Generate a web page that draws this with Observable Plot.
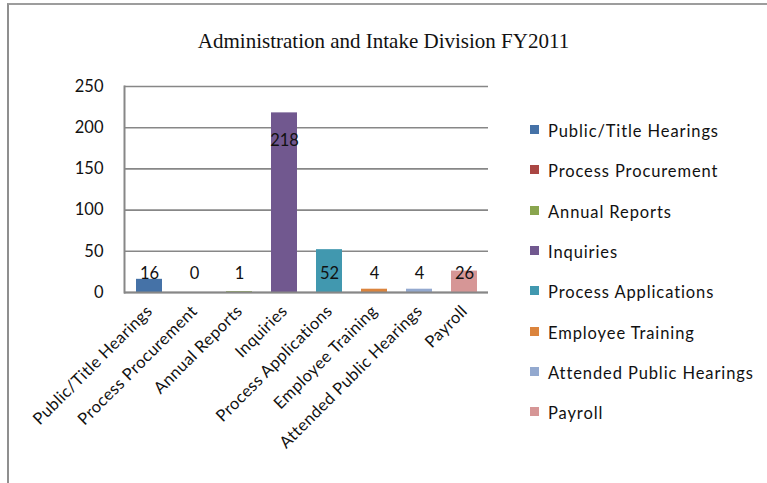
<!DOCTYPE html>
<html><head><meta charset="utf-8">
<script src="https://cdn.jsdelivr.net/npm/d3@7"></script>
<script src="https://cdn.jsdelivr.net/npm/@observablehq/plot@0.6"></script>
<style>
html,body{margin:0;padding:0;background:#fff}
body{width:767px;height:483px;overflow:hidden;position:relative;font-family:Lato,"Open Sans",sans-serif}
#frame{position:absolute;left:7px;top:3px;width:900px;height:700px;border-left:2px solid #8f8f8f;border-top:2px solid #9d9d9d;box-sizing:border-box}
#title{position:absolute;left:0;width:767px;top:29px;text-align:center;font-family:"Liberation Serif","DejaVu Serif",serif;font-size:21px;color:#111}
#chart{position:absolute;left:0;top:0}
#legend{position:absolute;left:530px;top:111px}
.item{display:flex;align-items:center;height:40.3px;font-size:16.5px;letter-spacing:0.9px;color:#111}
.sw{width:9px;height:9px;margin-right:9px;margin-top:-3px;flex:none}
</style></head>
<body>
<div id="frame"></div>
<div id="chart"></div>
<div id="title">Administration and Intake Division FY2011</div>
<div id="legend"></div>
<script>
const categories = ["Public/Title Hearings","Process Procurement","Annual Reports","Inquiries","Process Applications","Employee Training","Attended Public Hearings","Payroll"];
const values = [16, 0, 1, 218, 52, 4, 4, 26];
const colors = ["#4572A7","#AA4643","#89A54E","#71588F","#4198AF","#DB843D","#93A9CF","#D69696"];
const yTicks = [0, 50, 100, 150, 200, 250];

const data = categories.map((c, i) => ({cat: c, value: values[i]}));
const big = data.filter(d => d.value > 100);
const small = data.filter(d => d.value <= 100);
const gray = "#878787";

const chart = Plot.plot({
  width: 767,
  height: 483,
  marginLeft: 124,
  marginRight: 279,
  marginTop: 86,
  marginBottom: 191,
  style: {fontFamily: "Lato, 'Open Sans', sans-serif", background: "transparent"},
  x: {domain: categories, paddingInner: 0.43, paddingOuter: 0.215, axis: null},
  y: {domain: [0, 250], axis: null},
  color: {domain: categories, range: colors},
  marks: [
    Plot.gridY(yTicks, {stroke: gray, strokeOpacity: 1, strokeWidth: 1.6}),
    Plot.barY(data, {x: "cat", y: "value", fill: "cat"}),
    Plot.ruleY([0], {stroke: gray, strokeWidth: 2}),
    Plot.frame({anchor: "left", stroke: gray, strokeWidth: 2}),
    Plot.axisY(yTicks, {label: null, tickSize: 0, tickPadding: 21, fontSize: 16.5, fill: "#111"}),
    Plot.text(big, {x: "cat", y: "value", text: d => String(d.value), dy: 28, fontSize: 16.5, fill: "#111"}),
    Plot.text(small, {x: "cat", y: () => 0, text: d => String(d.value), dy: -19, fontSize: 16.5, fill: "#111"}),
    Plot.text(categories, {x: d => d, frameAnchor: "bottom", text: d => d, rotate: -45, textAnchor: "end", lineAnchor: "middle", dx: 0, dy: 16, fontSize: 16.5, fill: "#111", className: "xlab"})
  ]
});
document.getElementById("chart").appendChild(chart);

const legend = document.getElementById("legend");
categories.forEach((c, i) => {
  const row = document.createElement("div");
  row.className = "item";
  const sw = document.createElement("span");
  sw.className = "sw";
  sw.style.background = colors[i];
  const t = document.createElement("span");
  t.textContent = c;
  row.appendChild(sw); row.appendChild(t);
  legend.appendChild(row);
});
</script>
<style>.xlab text{letter-spacing:0.4px}</style>
</body></html>
